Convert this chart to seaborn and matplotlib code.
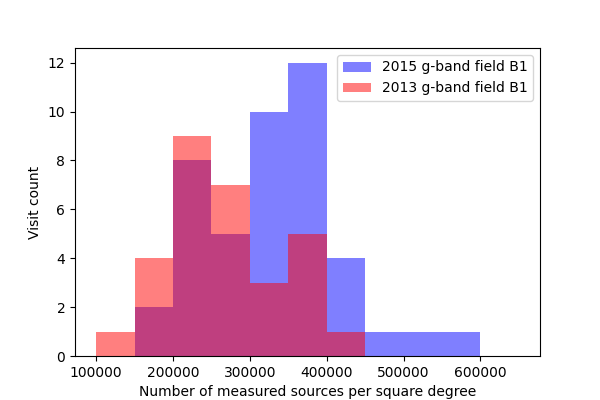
import matplotlib
matplotlib.use("Agg")
import matplotlib.pyplot as plt
import seaborn as sns
import numpy as np
from matplotlib.patches import Patch

# bin edges (sources per square degree) and visit counts per bin
bin_edges = [100000, 150000, 200000, 250000, 300000, 350000, 400000,
             450000, 500000, 550000, 600000, 650000]
counts_2015 = [0, 2, 8, 5, 10, 12, 4, 1, 1, 1, 0]
counts_2013 = [1, 4, 9, 7, 3, 5, 1, 0, 0, 0, 0]

centers = (np.array(bin_edges[:-1]) + np.array(bin_edges[1:])) / 2

fig, ax = plt.subplots(figsize=(6, 4), dpi=100)

sns.histplot(x=centers, weights=counts_2015, bins=bin_edges, color='blue',
             alpha=0.5, linewidth=0, ax=ax)
sns.histplot(x=centers, weights=counts_2013, bins=bin_edges, color='red',
             alpha=0.5, linewidth=0, ax=ax)

ax.set_xlim(72500, 677500)
ax.set_ylim(0, 12.6)
ax.set_xticks([100000, 200000, 300000, 400000, 500000, 600000])
ax.ticklabel_format(axis='x', style='plain')
ax.set_xlabel('Number of measured sources per square degree')
ax.set_ylabel('Visit count')

handles = [Patch(facecolor='blue', alpha=0.5, label='2015 g-band field B1'),
           Patch(facecolor='red', alpha=0.5, label='2013 g-band field B1')]
ax.legend(handles=handles, loc='upper right')

fig.savefig('out.png')
